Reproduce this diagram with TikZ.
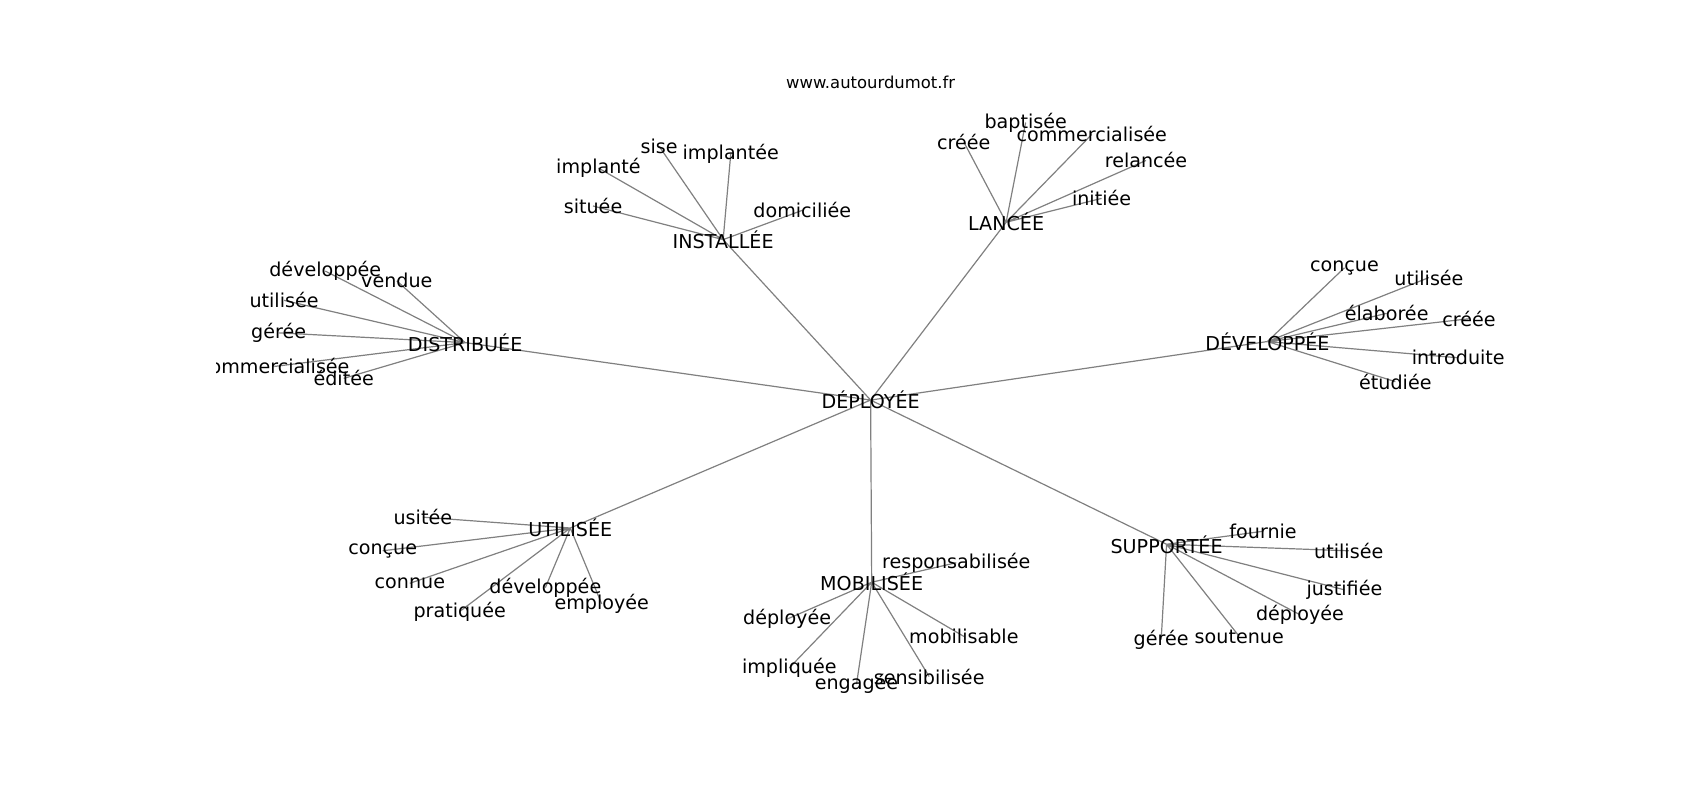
\documentclass[tikz,border=0pt]{standalone}
\usepackage{fontspec}
\setmainfont{DejaVu Sans}
\usetikzlibrary{backgrounds}
\tikzset{
  word/.style={inner sep=0pt, font=\fontsize{12.7}{15}\selectfont},
  link/.style={draw=gray, line width=0.8pt}
}
\begin{document}
\begin{tikzpicture}[x=0.72pt, y=-0.72pt]
    \useasboundingbox (0,0) rectangle (1568,738);
    \clip (200,0) rectangle (1568,738);
    \node[inner sep=0pt, font=\fontsize{10.9}{13}\selectfont] (site) at (803,76) {www.autourdumot.fr};

    \node[word] (dep) at (803,369) {DÉPLOYÉE};
    \node[word] (ins) at (667,221) {INSTALLÉE};
    \node[word] (lan) at (928,205) {LANCÉE};
    \node[word] (dis) at (429,316) {DISTRIBUÉE};
    \node[word] (dev) at (1169,315) {DÉVELOPPÉE};
    \node[word] (uti) at (526,487) {UTILISÉE};
    \node[word] (mob) at (804,537) {MOBILISÉE};
    \node[word] (sup) at (1076,502) {SUPPORTÉE};

    \node[word] (ins1) at (608,135) {sise};
    \node[word] (ins2) at (674,142) {implantée};
    \node[word] (ins3) at (552,155) {implanté};
    \node[word] (ins4) at (547,190) {située};
    \node[word] (ins5) at (740,194) {domiciliée};

    \node[word] (lan1) at (889,131) {créée};
    \node[word] (lan2) at (946,113) {baptisée};
    \node[word] (lan3) at (1007,124) {commercialisée};
    \node[word] (lan4) at (1057,148) {relancée};
    \node[word] (lan5) at (1016,183) {initiée};

    \node[word] (dis1) at (300,250) {développée};
    \node[word] (dis2) at (366,259) {vendue};
    \node[word] (dis3) at (262,277) {utilisée};
    \node[word] (dis4) at (257,307) {gérée};
    \node[word] (dis5) at (253,338) {commercialisée};
    \node[word] (dis6) at (317,349) {éditée};

    \node[word] (dev1) at (1240,247) {conçue};
    \node[word] (dev2) at (1318,256) {utilisée};
    \node[word] (dev3) at (1279,289) {élaborée};
    \node[word] (dev4) at (1355,294) {créée};
    \node[word] (dev5) at (1345,330) {introduite};
    \node[word] (dev6) at (1287,352) {étudiée};

    \node[word] (uti1) at (390,477) {usitée};
    \node[word] (uti2) at (353,508) {conçue};
    \node[word] (uti3) at (378,538) {connue};
    \node[word] (uti4) at (424,564) {pratiquée};
    \node[word] (uti5) at (503,542) {développée};
    \node[word] (uti6) at (555,557) {employée};

    \node[word] (mob1) at (882,519) {responsabilisée};
    \node[word] (mob2) at (726,571) {déployée};
    \node[word] (mob3) at (889,587) {mobilisable};
    \node[word] (mob4) at (728,616) {impliquée};
    \node[word] (mob5) at (790,631) {engagée};
    \node[word] (mob6) at (857,624) {sensibilisée};

    \node[word] (sup1) at (1165,490) {fournie};
    \node[word] (sup2) at (1244,508) {utilisée};
    \node[word] (sup3) at (1240,544) {justifiée};
    \node[word] (sup4) at (1199,567) {déployée};
    \node[word] (sup5) at (1143,587) {soutenue};
    \node[word] (sup6) at (1071,590) {gérée};

    \begin{pgfonlayer}{background}
    \draw[link] (dep.center) -- (ins.center) (dep.center) -- (lan.center)
      (dep.center) -- (dis.center) (dep.center) -- (dev.center)
      (dep.center) -- (uti.center) (dep.center) -- (mob.center)
      (dep.center) -- (sup.center);
    \draw[link] (ins.center) -- (ins1.center) (ins.center) -- (ins2.center)
      (ins.center) -- (ins3.center) (ins.center) -- (ins4.center)
      (ins.center) -- (ins5.center);
    \draw[link] (lan.center) -- (lan1.center) (lan.center) -- (lan2.center)
      (lan.center) -- (lan3.center) (lan.center) -- (lan4.center)
      (lan.center) -- (lan5.center);
    \draw[link] (dis.center) -- (dis1.center) (dis.center) -- (dis2.center)
      (dis.center) -- (dis3.center) (dis.center) -- (dis4.center)
      (dis.center) -- (dis5.center) (dis.center) -- (dis6.center);
    \draw[link] (dev.center) -- (dev1.center) (dev.center) -- (dev2.center)
      (dev.center) -- (dev3.center) (dev.center) -- (dev4.center)
      (dev.center) -- (dev5.center) (dev.center) -- (dev6.center);
    \draw[link] (uti.center) -- (uti1.center) (uti.center) -- (uti2.center)
      (uti.center) -- (uti3.center) (uti.center) -- (uti4.center)
      (uti.center) -- (uti5.center) (uti.center) -- (uti6.center);
    \draw[link] (mob.center) -- (mob1.center) (mob.center) -- (mob2.center)
      (mob.center) -- (mob3.center) (mob.center) -- (mob4.center)
      (mob.center) -- (mob5.center) (mob.center) -- (mob6.center);
    \draw[link] (sup.center) -- (sup1.center) (sup.center) -- (sup2.center)
      (sup.center) -- (sup3.center) (sup.center) -- (sup4.center)
      (sup.center) -- (sup5.center) (sup.center) -- (sup6.center);
    \end{pgfonlayer}
  \end{tikzpicture}
\end{document}
